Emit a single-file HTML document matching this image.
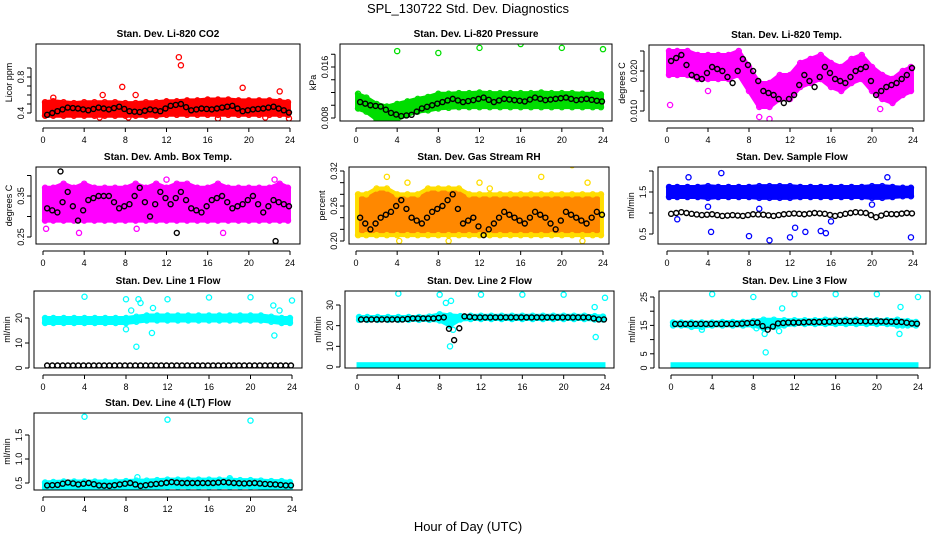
<!DOCTYPE html>
<html><head><meta charset="utf-8"><style>
body{margin:0;background:#fff;}
svg{display:block;font-family:"Liberation Sans",sans-serif;}
</style></head><body>
<svg id="chart" width="936" height="540" viewBox="0 0 936 540">
<rect width="936" height="540" fill="#fff"/>
<text x="468" y="13" text-anchor="middle" font-size="13">SPL_130722  Std. Dev. Diagnostics</text>
<text x="468" y="531" text-anchor="middle" font-size="13">Hour of Day (UTC)</text>
</svg>
<script>
const hours = [0,1,2,3,4,5,6,7,8,9,10,11,12,13,14,15,16,17,18,19,20,21,22,23,24];
const xTicks = [0,4,8,12,16,20,24];
// CO2
const co2Lo = [0.37,0.37,0.37,0.37,0.37,0.37,0.37,0.37,0.37,0.37,0.37,0.37,0.38,0.38,0.38,0.38,0.38,0.38,0.38,0.38,0.38,0.38,0.38,0.38,0.38];
const co2Hi = [0.52,0.53,0.52,0.51,0.52,0.52,0.52,0.52,0.51,0.51,0.52,0.52,0.53,0.53,0.54,0.54,0.55,0.55,0.55,0.54,0.54,0.54,0.54,0.53,0.52];
const co2Black = [0.38,0.42,0.46,0.45,0.43,0.46,0.44,0.47,0.42,0.41,0.44,0.42,0.48,0.50,0.43,0.45,0.44,0.46,0.48,0.42,0.44,0.45,0.47,0.43];
const co2Out = [[13.2,1.02],[13.4,0.93],[7.7,0.69],[9,0.6],[19.4,0.68],[23,0.64],[5.8,0.6],[1,0.57],[23.9,0.34],[17,0.34],[8.3,0.35],[21.6,0.35],[5.5,0.35]];
// Pressure
const prLo = [0.0095,0.009,0.0078,0.0075,0.0078,0.0085,0.009,0.0092,0.0095,0.0096,0.0097,0.0097,0.0097,0.0097,0.0097,0.0097,0.0097,0.0097,0.0097,0.0097,0.0097,0.0097,0.0097,0.0097,0.0097];
const prHi = [0.0118,0.0112,0.0102,0.0098,0.0102,0.0106,0.011,0.0113,0.0118,0.0118,0.0119,0.0119,0.012,0.0119,0.0119,0.0119,0.0119,0.0119,0.012,0.0119,0.0119,0.0119,0.0118,0.0118,0.0117];
const prBlack = [0.0105,0.0100,0.0098,0.0088,0.0083,0.0085,0.0095,0.0100,0.0105,0.0110,0.0105,0.0108,0.0112,0.0105,0.0110,0.0108,0.0106,0.0112,0.0108,0.0110,0.0112,0.0108,0.0110,0.0107];
const prOut = [[4,0.0185],[8,0.0182],[12,0.0190],[16,0.0196],[20,0.0190],[24,0.0188]];
// Li-820 Temp
const tLo = [0.019,0.019,0.019,0.018,0.018,0.018,0.018,0.019,0.015,0.011,0.011,0.013,0.013,0.016,0.017,0.018,0.016,0.015,0.017,0.018,0.015,0.013,0.012,0.014,0.015];
const tHi = [0.025,0.025,0.025,0.024,0.024,0.024,0.024,0.025,0.021,0.017,0.017,0.019,0.019,0.022,0.023,0.024,0.022,0.021,0.023,0.024,0.021,0.019,0.018,0.020,0.021];
const tBlack = [0.0225,0.024,0.019,0.018,0.021,0.020,0.017,0.023,0.020,0.015,0.014,0.012,0.014,0.019,0.016,0.021,0.018,0.017,0.020,0.021,0.014,0.016,0.017,0.019];
const tOut = [[0.3,0.0115],[9,0.0085],[10,0.008],[20.8,0.0105],[4,0.015]];
// Amb box temp
const aLo = [0.29,0.29,0.29,0.29,0.29,0.29,0.29,0.29,0.29,0.29,0.29,0.29,0.29,0.29,0.29,0.29,0.29,0.29,0.29,0.29,0.29,0.29,0.29,0.29,0.29];
const aHi = [0.37,0.37,0.38,0.37,0.38,0.37,0.37,0.37,0.37,0.38,0.37,0.38,0.37,0.38,0.38,0.37,0.37,0.38,0.37,0.37,0.37,0.37,0.37,0.38,0.37];
const aBlack = [0.32,0.31,0.36,0.29,0.34,0.35,0.35,0.32,0.33,0.37,0.30,0.36,0.33,0.36,0.32,0.31,0.34,0.35,0.32,0.33,0.35,0.31,0.34,0.33];
const aOut = [[0.3,0.27],[3.5,0.26],[9.1,0.27],[17.5,0.26],[12,0.39],[22.5,0.39]];
const aBlackOut = [[1.7,0.41],[13,0.26],[22.6,0.24]];
// RH
const rhLo = [0.21,0.21,0.21,0.21,0.21,0.21,0.21,0.21,0.21,0.21,0.21,0.21,0.21,0.21,0.21,0.21,0.21,0.21,0.21,0.21,0.21,0.21,0.21,0.21,0.21];
const rhHi = [0.28,0.28,0.29,0.29,0.28,0.28,0.28,0.29,0.29,0.29,0.29,0.28,0.28,0.28,0.28,0.28,0.28,0.28,0.28,0.28,0.28,0.28,0.28,0.28,0.28];
const rhBlack = [0.24,0.22,0.24,0.25,0.27,0.24,0.23,0.25,0.26,0.28,0.23,0.24,0.21,0.23,0.25,0.24,0.23,0.25,0.24,0.22,0.25,0.24,0.23,0.25];
const rhOut = [[3,0.31],[4.2,0.20],[5,0.30],[12,0.30],[13,0.29],[18,0.31],[21,0.33],[22,0.20],[22.5,0.30],[9,0.20]];
// Sample flow
const sfLo = [1.38,1.38,1.38,1.38,1.36,1.38,1.38,1.38,1.38,1.36,1.36,1.36,1.36,1.38,1.38,1.38,1.38,1.38,1.38,1.38,1.36,1.36,1.38,1.40,1.40];
const sfHi = [1.62,1.62,1.62,1.62,1.64,1.62,1.62,1.62,1.62,1.64,1.64,1.64,1.64,1.62,1.62,1.62,1.62,1.62,1.62,1.62,1.64,1.64,1.62,1.60,1.60];
const sfBlack = [0.98,1.02,0.98,0.95,0.97,0.93,0.95,0.93,0.97,0.96,0.93,0.97,0.99,0.97,1.00,0.98,0.93,0.98,1.02,1.00,0.90,0.98,0.97,1.00];
const sfOut = [[1,0.85],[2.1,1.85],[4,1.15],[5.3,1.95],[4.3,0.55],[8,0.45],[10,0.35],[12,0.42],[12.5,0.65],[13.5,0.55],[15,2.2],[15,0.57],[15.5,0.52],[16,0.8],[20,1.2],[21,2.2],[21.5,1.85],[23.8,0.42],[9,1.1]];
// Line 1
const l1Lo = [18,18,18,18,18,18,18,18,18,18.5,19,19,19,19,19,19,19,19,19,19,19,19,18.5,18,18];
const l1Hi = [20,20,20,20,20,20,20,20,20,20.5,21,21,21,21,21,21,21,21,21,21,21,21,20.5,20,20];
const l1Black = [1,1,1,1,1,1,1,1,1,1,1,1,1,1,1,1,1,1,1,1,1,1,1,1];
const l1Out = [[4,28.5],[8,27.5],[8,15.5],[8.5,23],[9,8.5],[9.2,27.5],[9.4,26],[10.5,14],[10.6,24],[12,27.5],[16,28.2],[20,28.3],[22.2,25],[22.3,13],[22.8,23],[24,27]];
// Line 2
const l2Lo = [22.8,22.8,22.8,22.8,22.8,22.8,22.8,22.8,22.5,20,23,23.2,23.2,23.2,23.2,23.2,23.2,23.2,23.2,23.2,23.2,23.2,23.2,23,23];
const l2Hi = [24.2,24.2,24.2,24.2,24.2,24.2,24.2,24.4,25.5,25,24.6,24.8,24.8,24.8,24.8,24.8,24.8,24.8,24.8,24.8,24.8,24.8,24.8,24.6,24.4];
const l2Black = [23,23,23,23,23,23.5,23.5,23.5,24,13,24.5,24,24,24,24,24,24,24,24,24,24,24,24,23];
const l2Out = [[4,35.5],[8,35],[8.6,31],[9.1,32],[9.3,18],[9,10],[12,35],[16,35],[20,35],[23,29],[23.1,14.5],[24,33.5]];
// Line 3
const l3Lo = [15,15,14.5,14.5,15,15,15,15,15,14,14.5,15,15.5,15.5,15.5,15.5,15.5,15.5,15.5,15.5,15.5,15.5,15,15,15];
const l3Hi = [16,16,16,16,16,16.2,16.2,16.2,16.5,17,17,16.8,16.8,16.8,16.8,17,17,17,17,16.8,16.8,16.8,17,16.5,16.2];
const l3Black = [15.5,15.5,15.5,15.5,15.5,15.5,15.5,15.8,16,13.5,15.7,16,16,16.2,16.2,16.3,16.5,16.5,16.5,16.4,16.4,16.3,16.2,15.7];
const l3Out = [[3,13.5],[4,26],[8,25],[8.3,14],[9.1,12],[9.2,5.5],[10.5,13],[10.8,21],[12,26],[16,26],[20,26],[22.2,12],[22.3,21.5],[22.5,15],[24,25]];
// Line 4
const l4Lo = [0.40,0.40,0.40,0.40,0.40,0.40,0.40,0.40,0.40,0.40,0.41,0.41,0.42,0.42,0.42,0.42,0.42,0.42,0.42,0.42,0.42,0.41,0.39,0.38,0.40];
const l4Hi = [0.51,0.52,0.53,0.53,0.53,0.53,0.53,0.53,0.54,0.55,0.55,0.56,0.57,0.57,0.57,0.57,0.57,0.57,0.57,0.56,0.56,0.55,0.54,0.54,0.52];
const l4Black = [0.45,0.46,0.51,0.47,0.50,0.45,0.44,0.47,0.50,0.44,0.47,0.49,0.52,0.50,0.50,0.50,0.50,0.52,0.50,0.49,0.50,0.48,0.47,0.45];
const l4Out = [[4,1.88],[12,1.82],[20,1.8],[9.1,0.62],[9.3,0.4],[10.6,0.37],[22.8,0.33],[23,0.32],[18,0.6]];

const NS = "http://www.w3.org/2000/svg";
const svg = document.getElementById('chart');
function mk(tag, attrs, parent){const e=document.createElementNS(NS,tag);for(const k in attrs)e.setAttribute(k,attrs[k]);(parent||svg).appendChild(e);return e;}

const panels = [
 {name:'co2',title:'Stan. Dev. Li-820 CO2',ylab:'Licor ppm',box:[36,300,44,121],x0:43,x24:290,yv:[0.4,0.8],yp:[113,77],yt:[0.4,0.5,0.6,0.7,0.8,0.9],yl:{0.4:'0.4',0.8:'0.8'},lo:co2Lo,hi:co2Hi,blk:co2Black,out:co2Out,col:'#ff0000'},
 {name:'pressure',title:'Stan. Dev. Li-820 Pressure',ylab:'kPa',box:[340,612,44,121],x0:356,x24:603,yv:[0.008,0.016],yp:[118,67],yt:[0.008,0.010,0.012,0.014,0.016,0.018],yl:{0.008:'0.008',0.016:'0.016'},lo:prLo,hi:prHi,blk:prBlack,out:prOut,col:'#00dd00'},
 {name:'li820-temp',title:'Stan. Dev. Li-820 Temp.',ylab:'degrees C',box:[649,924,45,121],x0:667,x24:913,yv:[0.010,0.020],yp:[111,71],yt:[0.010,0.015,0.020,0.025],yl:{0.01:'0.010',0.02:'0.020'},lo:tLo,hi:tHi,blk:tBlack,out:tOut,col:'#ff00ff'},
 {name:'amb-temp',title:'Stan. Dev. Amb. Box Temp.',ylab:'degrees C',box:[36,300,167,244],x0:43,x24:290,yv:[0.25,0.35],yp:[237,196],yt:[0.25,0.30,0.35,0.40],yl:{0.25:'0.25',0.35:'0.35'},lo:aLo,hi:aHi,blk:aBlack,out:aOut,bout:aBlackOut,col:'#ff00ff'},
 {name:'gas-rh',title:'Stan. Dev. Gas Stream RH',ylab:'percent',box:[349,609,167,244],x0:356,x24:603,yv:[0.20,0.32],yp:[241,171],yt:[0.20,0.22,0.24,0.26,0.28,0.30,0.32],yl:{0.2:'0.20',0.26:'0.26',0.32:'0.32'},lo:rhLo,hi:rhHi,blk:rhBlack,out:rhOut,col:'#ff8800',edge:'#ffdd00'},
 {name:'sample-flow',title:'Stan. Dev. Sample Flow',ylab:'ml/min',box:[658,926,167,244],x0:667,x24:913,yv:[0.5,1.5],yp:[234,192],yt:[0.5,1.0,1.5,2.0],yl:{0.5:'0.5',1.5:'1.5'},lo:sfLo,hi:sfHi,blk:sfBlack,out:sfOut,col:'#0000ff'},
 {name:'line1-flow',title:'Stan. Dev. Line 1 Flow',ylab:'ml/min',box:[34,302,291,368],x0:43,x24:292,yv:[0,20],yp:[368,318],yt:[0,10,20],yl:{0:'0',10:'10',20:'20'},lo:l1Lo,hi:l1Hi,blk:l1Black,out:l1Out,col:'#00ffff'},
 {name:'line2-flow',title:'Stan. Dev. Line 2 Flow',ylab:'ml/min',box:[345,614,291,368],x0:357,x24:605,yv:[0,30],yp:[367,305],yt:[0,10,20,30],yl:{0:'0',10:'10',20:'20',30:'30'},lo:l2Lo,hi:l2Hi,blk:l2Black,out:l2Out,col:'#00ffff',base:[0.4,1.6]},
 {name:'line3-flow',title:'Stan. Dev. Line 3 Flow',ylab:'ml/min',box:[659,930,291,368],x0:671,x24:918,yv:[0,25],yp:[368,297],yt:[0,5,10,15,20,25],yl:{0:'0',5:'5',15:'15',25:'25'},lo:l3Lo,hi:l3Hi,blk:l3Black,out:l3Out,col:'#00ffff',base:[0.3,1.5]},
 {name:'line4-flow',title:'Stan. Dev. Line 4 (LT) Flow',ylab:'ml/min',box:[34,302,413,490],x0:43,x24:292,yv:[0.5,1.5],yp:[483,435],yt:[0.5,1.0,1.5],yl:{0.5:'0.5',1:'1.0',1.5:'1.5'},lo:l4Lo,hi:l4Hi,blk:l4Black,out:l4Out,col:'#00ffff'}
];

panels.forEach(p=>{
  const [bx0,bx1,by0,by1]=p.box;
  const g=mk('g',{});
  
  
  const X=h=>p.x0+(p.x24-p.x0)*h/24;
  const Y=v=>p.yp[0]+(p.yp[1]-p.yp[0])*(v-p.yv[0])/(p.yv[1]-p.yv[0]);
  const cp=mk('clipPath',{id:'cp-'+p.name},g);
  mk('rect',{x:bx0,y:by0,width:bx1-bx0,height:by1-by0},cp);
  const plot=mk('g',{'clip-path':'url(#cp-'+p.name+')'},g);
  let pts=[];
  hours.forEach((h,i)=>pts.push(X(Math.max(0.1,Math.min(23.9,h)))+','+Y(p.hi[i])));
  for(let i=hours.length-1;i>=0;i--)pts.push(X(Math.max(0.1,Math.min(23.9,hours[i])))+','+Y(p.lo[i]));
  const band=mk('polygon',{points:pts.join(' '),fill:p.col,stroke:p.edge||p.col,'stroke-width':4,'stroke-linejoin':'round'},plot);
  
  
  if(p.base){
    const bb=mk('rect',{x:X(0.1),y:Y(p.base[1]),width:X(23.9)-X(0.1),height:Y(p.base[0])-Y(p.base[1]),fill:p.col,stroke:p.col,'stroke-width':3},plot);
    
    
  }
  hours.forEach((h,i)=>{
    const hh=Math.max(0.2,Math.min(23.8,h));
    [p.hi[i],p.lo[i]].forEach(v=>{
      const c=mk('circle',{cx:X(hh),cy:Y(v),r:2.6,fill:'none',stroke:p.edge||p.col,'stroke-width':1.3},plot);
      
      
    });
  });
  p.out.forEach(o=>{
    const c=mk('circle',{cx:X(o[0]),cy:Y(o[1]),r:2.6,fill:'none',stroke:p.edge||p.col,'stroke-width':1.3},plot);
    
    
  });
  p.blk.forEach((v,i)=>{
    const c=mk('circle',{cx:X(i+0.4),cy:Y(v),r:2.5,fill:'none',stroke:'#000','stroke-width':1.4},plot);
    
    
    const c2=mk('circle',{cx:X(i+0.9),cy:Y(v+(p.blk[(i+1)%p.blk.length]-v)*0.5),r:2.5,fill:'none',stroke:'#000','stroke-width':1.4},plot);
    
    
  });
  (p.bout||[]).forEach(o=>{
    const c=mk('circle',{cx:X(o[0]),cy:Y(o[1]),r:2.5,fill:'none',stroke:'#000','stroke-width':1.4},plot);
    
    
  });
  mk('rect',{x:bx0,y:by0,width:bx1-bx0,height:by1-by0,fill:'none',stroke:'#000','stroke-width':1},g);
  mk('line',{x1:X(0),x2:X(24),y1:by1+7,y2:by1+7,stroke:'#000'},g);
  xTicks.forEach(t=>{
    mk('line',{x1:X(t),x2:X(t),y1:by1+7,y2:by1+11,stroke:'#000'},g);
    const tx=mk('text',{x:X(t),y:by1+22,'text-anchor':'middle','font-size':9},g);
    tx.textContent=t;
    
    
  });
  const ax=bx0-5;
  const ys=p.yt.map(Y);
  mk('line',{x1:ax,x2:ax,y1:Math.min(...ys),y2:Math.max(...ys),stroke:'#000'},g);
  p.yt.forEach(t=>{
    mk('line',{x1:ax-4,x2:ax,y1:Y(t),y2:Y(t),stroke:'#000'},g);
    const key=Object.keys(p.yl).find(k=>Math.abs(+k-t)<1e-9);
    if(key!==undefined){
      const tx=mk('text',{x:ax-7,y:Y(t),'text-anchor':'middle','font-size':9,transform:'rotate(-90 '+(ax-7)+' '+Y(t)+')'},g);
      tx.textContent=p.yl[key];
      
      
    }
  });
  const yl=mk('text',{x:ax-19,y:(by0+by1)/2,'text-anchor':'middle','font-size':9,transform:'rotate(-90 '+(ax-19)+' '+((by0+by1)/2)+')'},g);
  yl.textContent=p.ylab;
  
  
  const ti=mk('text',{x:(bx0+bx1)/2,y:by0-7,'text-anchor':'middle','font-size':10,'font-weight':'bold'},g);
  ti.textContent=p.title;
  
  
});
</script>
</body></html>
